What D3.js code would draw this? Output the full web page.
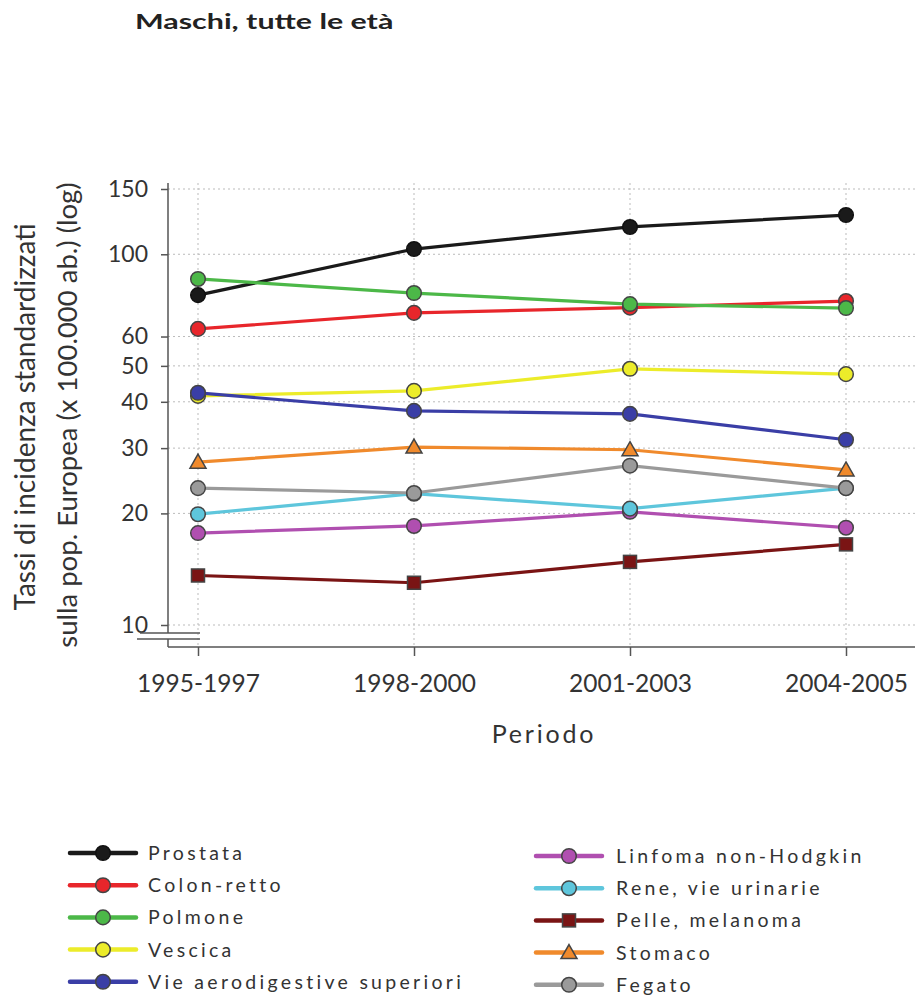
<!DOCTYPE html>
<html><head><meta charset="utf-8">
<script src="https://cdn.jsdelivr.net/npm/d3@7"></script>
<style>body{margin:0;background:#fff}svg{display:block}</style>
</head><body>
<svg id="c" width="915" height="1003"></svg>
<script>
const periods = ["1995-1997","1998-2000","2001-2003","2004-2005"];
const yTicks = [10,20,30,40,50,60,100,150];
const seriesNames = ["Prostata","Colon-retto","Polmone","Vescica","Vie aerodigestive superiori","Linfoma non-Hodgkin","Rene, vie urinarie","Pelle, melanoma","Stomaco","Fegato"];
const prostata   = [77.6,103.3,118.5,127.6];
const colonRetto = [62.9,69.5,71.8,74.8];
const polmone    = [85.8,78.6,73.4,71.6];
const vescica    = [41.5,42.8,49.1,47.5];
const vads       = [42.3,37.8,37.1,31.6];
const linfoma    = [17.7,18.5,20.2,18.3];
const rene       = [19.9,22.6,20.6,23.4];
const pelle      = [13.6,13.0,14.8,16.5];
const stomaco    = [27.5,30.2,29.7,26.2];
const fegato     = [23.4,22.7,26.9,23.4];
const seriesValues = [prostata,colonRetto,polmone,vescica,vads,linfoma,rene,pelle,stomaco,fegato];
const colors = ["#1a1a1a","#e8262b","#4cb848","#ecec2a","#3a3ea6","#b04fb0","#5ec6dc","#7a1414","#f08a2c","#9a9a9a"];
const shapes = ["circle","circle","circle","circle","circle","circle","circle","square","triangle","circle"];

const svg = d3.select("#c");
const font = "Lato, 'Open Sans', sans-serif";
const textCol = "#333";

const x = d3.scalePoint().domain(periods).range([198,846]);
const y = d3.scaleLog().domain([10,150]).range([625,189]);

// gridlines
const grid = svg.append("g");
grid.selectAll("line.h").data(yTicks).join("line")
  .attr("x1",168).attr("x2",915).attr("y1",d=>y(d)).attr("y2",d=>y(d))
  .attr("stroke","#bbb").attr("stroke-width",1).attr("stroke-dasharray","2,3");
grid.selectAll("line.v").data(periods).join("line")
  .attr("x1",d=>x(d)).attr("x2",d=>x(d)).attr("y1",183).attr("y2",647)
  .attr("stroke","#bbb").attr("stroke-width",1).attr("stroke-dasharray","2,3");

// y axis
const yAx = svg.append("g").attr("transform","translate(168,0)")
  .call(d3.axisLeft(y).tickValues(yTicks).tickFormat(d3.format("d")).tickSize(7).tickSizeOuter(0));
yAx.select(".domain").remove();
yAx.selectAll(".tick line").attr("stroke","#555").attr("stroke-width",1.5);
yAx.selectAll(".tick text").attr("font-family",font).attr("font-size",23).attr("fill",textCol).attr("x",-20);
svg.append("line").attr("x1",168).attr("x2",168).attr("y1",183).attr("y2",633).attr("stroke","#555").attr("stroke-width",1.5);
svg.append("line").attr("x1",168).attr("x2",168).attr("y1",639).attr("y2",647).attr("stroke","#555").attr("stroke-width",1.5);
svg.append("line").attr("x1",140).attr("x2",200).attr("y1",633).attr("y2",633).attr("stroke","#555").attr("stroke-width",1.5);
svg.append("line").attr("x1",137).attr("x2",200).attr("y1",639).attr("y2",639).attr("stroke","#555").attr("stroke-width",1.5);

// x axis
const xAx = svg.append("g").attr("transform","translate(0,647)")
  .call(d3.axisBottom(x).tickSize(9).tickSizeOuter(0));
xAx.select(".domain").attr("d","M168,0H915").attr("stroke","#555").attr("stroke-width",1.5);
xAx.selectAll(".tick line").attr("stroke","#555").attr("stroke-width",1.5);
xAx.selectAll(".tick text").attr("font-family",font).attr("font-size",24.5).attr("fill",textCol)
  .attr("y",45).attr("dy","0");

svg.append("text").attr("x",544).attr("y",743).attr("text-anchor","middle")
  .attr("font-family",font).attr("font-size",25).attr("letter-spacing","2.8px").attr("fill",textCol).text("Periodo");

// y label
svg.append("text").attr("transform","translate(35,417) rotate(-90)").attr("text-anchor","middle")
  .attr("font-family",font).attr("font-size",28).attr("fill",textCol).text("Tassi di incidenza standardizzati");
svg.append("text").attr("transform","translate(77,415) rotate(-90)").attr("text-anchor","middle")
  .attr("font-family",font).attr("font-size",27.5).attr("fill",textCol).text("sulla pop. Europea (x 100.000 ab.) (log)");

// title
svg.append("text").attr("transform","translate(135,29) scale(1.52,1)").attr("font-family",font).attr("font-weight","bold")
  .attr("font-size",20).attr("fill","#222").text("Maschi, tutte le età");

function marker(g, shape, cx, cy, fill, stroke) {
  if (shape==="circle") {
    g.append("circle").attr("cx",cx).attr("cy",cy).attr("r",7.3).attr("fill",fill).attr("stroke",stroke).attr("stroke-width",1.5);
  } else if (shape==="square") {
    g.append("rect").attr("x",cx-6.5).attr("y",cy-6.5).attr("width",13).attr("height",13).attr("fill",fill).attr("stroke",stroke).attr("stroke-width",1.5);
  } else {
    g.append("path").attr("d",`M${cx},${cy-8}L${cx+8},${cy+6}L${cx-8},${cy+6}Z`).attr("fill",fill).attr("stroke",stroke).attr("stroke-width",1.5);
  }
}

const line = d3.line().x((d,i)=>x(periods[i])).y(d=>y(d));
seriesValues.forEach((vals,si)=>{
  const g = svg.append("g");
  g.append("path").attr("d",line(vals)).attr("fill","none").attr("stroke",colors[si]).attr("stroke-width",3.2);
  const stroke = si===0 ? "#111" : "#444";
  vals.forEach((v,i)=>marker(g, shapes[si], x(periods[i]), y(v), colors[si], stroke));
});

// legend
const legCols = [{lx:70,tx:148,y0:853},{lx:536,tx:616,y0:856}];
seriesNames.forEach((name,si)=>{
  const col = legCols[si<5?0:1];
  const row = si%5;
  const ly = col.y0 + row*32.2;
  const g = svg.append("g");
  g.append("line").attr("x1",col.lx).attr("x2",col.lx+66).attr("y1",ly).attr("y2",ly)
    .attr("stroke",colors[si]).attr("stroke-width",4.5).attr("stroke-linecap","round");
  marker(g, shapes[si], col.lx+33, ly, colors[si], si===0?"#111":"#444");
  g.append("text").attr("x",col.tx).attr("y",ly+7).attr("font-family",font).attr("font-size",19.5)
    .attr("letter-spacing","3.3px").attr("fill",textCol).text(name);
});
</script>
</body></html>
